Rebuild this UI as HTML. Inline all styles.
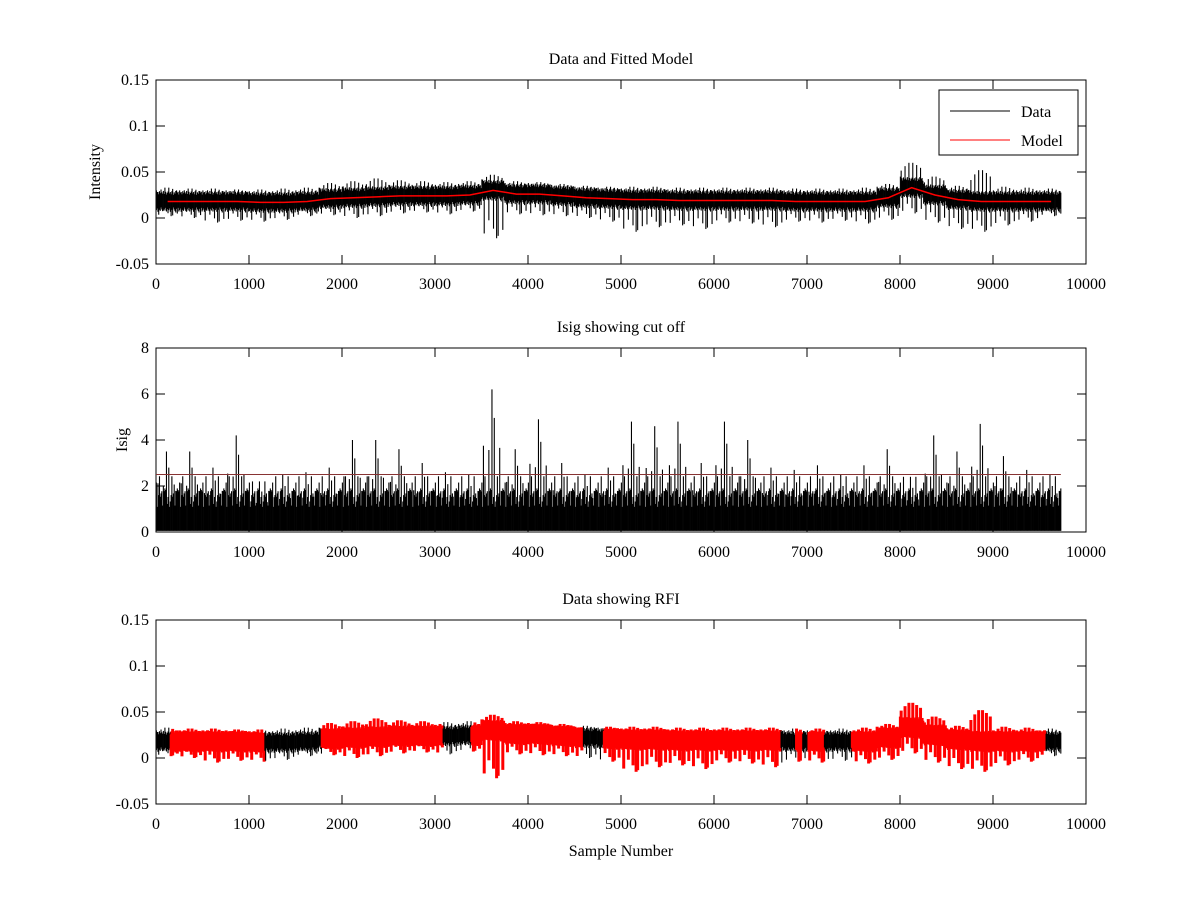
<!DOCTYPE html>
<html><head><meta charset="utf-8"><style>
body{margin:0;background:#fff;}
svg text{font-family:"Liberation Serif",serif;font-size:16px;fill:#000;}
</style></head><body>
<svg id="chart" width="1200" height="900" viewBox="0 0 1200 900" xmlns="http://www.w3.org/2000/svg">
<rect width="1200" height="900" fill="#fff"/>
<g id="g1"></g>
<g id="g2"></g>
<g id="g3"></g>
</svg>
<script>
// bins of 250 samples, 0..9750
const binSize = 250;
const modelVals = [0.018,0.018,0.018,0.018,0.017,0.017,0.018,0.021,0.022,0.023,0.024,0.024,0.024,0.025,0.030,0.026,0.026,0.024,0.022,0.021,0.020,0.020,0.019,0.019,0.019,0.019,0.019,0.018,0.018,0.018,0.018,0.022,0.033,0.025,0.020,0.018,0.018,0.018,0.018];
const dataMax = [0.033,0.032,0.032,0.031,0.031,0.032,0.033,0.038,0.040,0.043,0.041,0.040,0.039,0.040,0.047,0.040,0.039,0.037,0.035,0.034,0.034,0.034,0.033,0.033,0.033,0.033,0.033,0.032,0.032,0.032,0.033,0.037,0.060,0.045,0.035,0.052,0.034,0.033,0.032];
const dataMin = [0.002,0.000,-0.005,-0.003,-0.004,-0.002,0.002,0.003,0.000,0.002,0.005,0.006,0.004,0.007,-0.022,0.004,0.003,0.002,0.000,-0.004,-0.015,-0.010,-0.008,-0.012,-0.005,-0.006,-0.010,-0.004,-0.005,-0.003,-0.006,-0.002,0.005,-0.005,-0.012,-0.015,-0.008,-0.004,0.002];
const isigMax = [3.5,3.5,2.8,4.2,2.2,2.5,2.6,2.8,4.0,4.0,3.6,3.0,2.6,2.5,6.2,3.6,4.9,3.0,2.5,2.8,4.8,4.6,4.8,3.0,4.8,4.0,2.8,2.7,2.9,2.5,2.9,3.6,2.4,4.2,3.5,4.7,3.3,2.7,2.5];
const isigCut = 2.5;
const rfiStart = [157,1780,3390,4820,6880,7020,7480];
const rfiEnd =   [1170,3080,4590,6720,6950,7180,9570];
const xTicks = [0,1000,2000,3000,4000,5000,6000,7000,8000,9000,10000];
const yTicksA = [0.15,0.1,0.05,0,-0.05];
const yTicksB = [8,6,4,2,0];
const lastSample = 9730;

const NS='http://www.w3.org/2000/svg';
function mk(p,t,a){const e=document.createElementNS(NS,t);for(const k in a)e.setAttribute(k,a[k]);p.appendChild(e);return e;}
const X0=156,X1=1086;
const sx=v=>X0+v*(X1-X0)/10000;
const panels=[{top:80,bot:264,min:-0.05,max:0.15},{top:348,bot:532,min:0,max:8},{top:620,bot:804,min:-0.05,max:0.15}];
function sy(p,v){return p.bot-(v-p.min)/(p.max-p.min)*(p.bot-p.top);}
function fmt(v){return (Math.round(v*100)/100).toString().replace(/^(-?)0\./,'$10.');}
function axes(g,p,ticks,title,ylab){
  const b=mk(g,'rect',{x:X0,y:p.top,width:X1-X0,height:p.bot-p.top,fill:'none',stroke:'#000','stroke-width':1});
  
  xTicks.forEach(t=>{const x=sx(t);
    mk(g,'line',{x1:x,x2:x,y1:p.bot,y2:p.bot-9,stroke:'#000'});
    mk(g,'line',{x1:x,x2:x,y1:p.top,y2:p.top+9,stroke:'#000'});
    const tx=mk(g,'text',{x:x,y:p.bot+25,'text-anchor':'middle'});tx.textContent=t;
    });
  ticks.forEach(t=>{const y=sy(p,t);
    mk(g,'line',{x1:X0,x2:X0+9,y1:y,y2:y,stroke:'#000'});
    mk(g,'line',{x1:X1,x2:X1-9,y1:y,y2:y,stroke:'#000'});
    const tx=mk(g,'text',{x:X0-7,y:y+5,'text-anchor':'end'});tx.textContent=(p.max<1?fmt(t):t);
    });
  const tt=mk(g,'text',{x:621,y:p.top-16,'text-anchor':'middle'});tt.textContent=title;
  
  if(ylab){const yl=mk(g,'text',{x:0,y:0,'text-anchor':'middle',transform:`translate(${ylab[1]},${(p.top+p.bot)/2}) rotate(-90)`});yl.textContent=ylab[0];
    }
}
const pat=[1,0.45,0.7,0.3,0.85,0.5,0.2,0.65,0.4,0.9,0.35,0.6,0.75,0.25,0.55,0.8];
const inRfi=s=>rfiStart.some((a,i)=>s>=a&&s<=rfiEnd[i]);
function drawData(g,p,rfi){
  const nb=modelVals.length;
  for(let i=0;i<nb;i++){
    const per=30;
    for(let k=0;k<per;k++){
      const s=i*binSize+(k+0.5)*binSize/per; if(s>lastSample)break;
      const m=modelVals[i];
      const U=dataMax[i]-m, D=m-dataMin[i];
      let up=Math.min(0.012,U)*(0.5+0.5*pat[k%16]), dn=Math.min(0.012,D)*(0.4+0.6*pat[(k+7)%16]);
      if(k%5==1)up=U*(0.55+0.45*pat[(k*3)%16]);
      if(k%6==3)dn=D*(0.5+0.5*pat[(k*5)%16]);
      if(k==11)up=U;
      if(k==19)dn=D;
      const red=rfi&&inRfi(s);
      const l=mk(g,'line',{x1:sx(s),x2:sx(s),y1:sy(p,m+up),y2:sy(p,m-dn),stroke:red?'#ff0000':'#000','stroke-width':red?3:1.1});
      
      
    }
  }
}
const g1=document.getElementById('g1'),g2=document.getElementById('g2'),g3=document.getElementById('g3');
axes(g1,panels[0],yTicksA,'Data and Fitted Model',['Intensity',100]);
drawData(g1,panels[0],false);
let d='';modelVals.forEach((m,i)=>{d+=(i?'L':'M')+sx(Math.min(i*binSize+125,lastSample))+','+sy(panels[0],m);});
const ml=mk(g1,'path',{d:d,fill:'none',stroke:'#ff0000','stroke-width':1.5});

const lg=mk(g1,'g',{});
mk(lg,'rect',{x:939,y:90,width:139,height:65,fill:'#fff',stroke:'#000'});
mk(lg,'line',{x1:950,x2:1010,y1:111,y2:111,stroke:'#000'});
mk(lg,'line',{x1:950,x2:1010,y1:140,y2:140,stroke:'#ff0000'});
let t=mk(lg,'text',{x:1021,y:117});t.textContent='Data';
t=mk(lg,'text',{x:1021,y:146});t.textContent='Model';

axes(g2,panels[1],yTicksB,'Isig showing cut off',['Isig',127]);
const p2=panels[1];
for(let i=0;i<isigMax.length;i++){
  const per=30;
  for(let k=0;k<per;k++){
    const s=i*binSize+(k+0.5)*binSize/per; if(s>lastSample)break;
    let h=Math.min(isigMax[i], 0.8+1.9*pat[(k*3)%16]*pat[(k+5)%16]+0.4*pat[k%16]);
    if(k%7==2)h=isigMax[i]*(0.5+0.3*pat[(k*5)%16]);
    if(k==13)h=isigMax[i];
    const l=mk(g2,'line',{x1:sx(s),x2:sx(s),y1:sy(p2,h),y2:sy(p2,0.05),stroke:'#000','stroke-width':1.1});
    
  }
}
const cl=mk(g2,'line',{x1:sx(0),x2:sx(lastSample),y1:sy(p2,isigCut),y2:sy(p2,isigCut),stroke:'#883333','stroke-width':1});


axes(g3,panels[2],yTicksA,'Data showing RFI',null);
drawData(g3,panels[2],true);
t=mk(g3,'text',{x:621,y:856,'text-anchor':'middle'});t.textContent='Sample Number';

</script>
</body></html>
